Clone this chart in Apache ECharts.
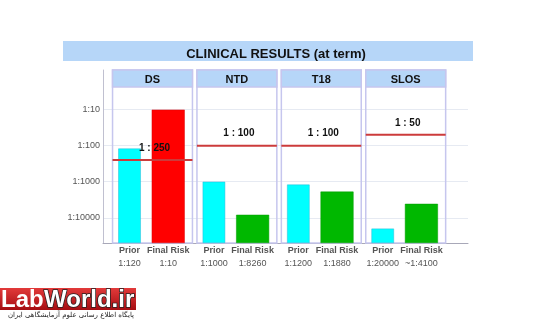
<!DOCTYPE html>
<html>
<head>
<meta charset="utf-8">
<script src="https://cdn.jsdelivr.net/npm/echarts@6/dist/echarts.min.js"></script>
<style>html,body{margin:0;padding:0;background:#fff}#c{width:550px;height:320px}</style>
</head>
<body>
<div id="c"></div>
<script>
// ---- data ----
const categories = ['DS', 'NTD', 'T18', 'SLOS'];
const priorDenoms = [120, 1000, 1200, 20000];
const finalDenoms = [10, 8260, 1880, 4100];
const priorLabels = ['1:120', '1:1000', '1:1200', '1:20000'];
const finalLabels = ['1:10', '1:8260', '1:1880', '~1:4100'];
const cutoffDenoms = [250, 100, 100, 50];
const cutoffLabels = ['1 : 250', '1 : 100', '1 : 100', '1 : 50'];
const yTickDenoms = [10, 100, 1000, 10000];
const yTickLabels = ['1:10', '1:100', '1:1000', '1:10000'];
const titleText = 'CLINICAL RESULTS (at term)';

// log-risk transform: height above axis floor (floor = 10^-4.7)
const FLOOR = 4.7, TOPV = 4.8;
const h = d => FLOOR - Math.log10(d);
const tickVals = yTickDenoms.map(h);

const FONT = '"Liberation Sans", Arial, sans-serif';
const chart = echarts.init(document.getElementById('c'), null, {renderer: 'canvas'});

const panelSeries = {
  type: 'custom', xAxisIndex: 1, yAxisIndex: 1, z: 1, silent: true,
  data: categories.map((c, i) => [i]),
  renderItem: function (params, api) {
    const i = api.value(0);
    const bot = api.coord([i, 0]);
    const top = api.coord([i, TOPV]);
    const bw = api.size([1, 0])[0];
    const w = bw - 4.5;
    const x0 = bot[0] - w / 2 + 1;
    const hh = 17;
    return {
      type: 'group',
      children: [
        {type: 'rect', shape: {x: x0, y: top[1], width: w, height: bot[1] - top[1]},
         style: {fill: 'none', stroke: '#c6c6ee', lineWidth: 1.5}},
        {type: 'rect', shape: {x: x0, y: top[1], width: w, height: hh},
         style: {fill: '#b6d6f8', stroke: '#c6c6ee', lineWidth: 1.5}},
        {type: 'text', style: {x: x0 + w / 2, y: top[1] + hh / 2 + 1, text: categories[i],
          align: 'center', verticalAlign: 'middle', font: 'bold 11px ' + FONT, fill: '#111'}}
      ]
    };
  }
};

const cutoffSeries = {
  type: 'custom', xAxisIndex: 1, yAxisIndex: 1, z: 10, silent: true,
  data: cutoffDenoms.map((d, i) => [i, h(d)]),
  renderItem: function (params, api) {
    const i = api.value(0);
    const p = api.coord([i, api.value(1)]);
    const bw = api.size([1, 0])[0];
    const w = bw - 4.5;
    const x0 = p[0] - w / 2 + 1;
    return {
      type: 'group',
      children: [
        {type: 'line', shape: {x1: x0, y1: p[1], x2: x0 + w, y2: p[1]},
         style: {stroke: '#cc3b3b', lineWidth: 2}},
        {type: 'text', style: {x: x0 + w / 2 + 2, y: p[1] - 12, text: cutoffLabels[i],
          align: 'center', verticalAlign: 'middle', font: 'bold 10px ' + FONT, fill: '#111'}}
      ]
    };
  }
};

const barLabel = (labels) => ({
  show: true, position: 'bottom', distance: 1,
  formatter: p => '{a|' + p.seriesName + '}\n{b|' + labels[p.dataIndex] + '}',
  rich: {
    a: {fontFamily: FONT, fontSize: 9, fontWeight: 'bold', color: '#555', lineHeight: 13},
    b: {fontFamily: FONT, fontSize: 9, color: '#555', lineHeight: 13}
  }
});

const option = {
  animation: false,
  backgroundColor: '#ffffff',
  title: {
    text: titleText, left: 271, top: 43, textAlign: 'center',
    textStyle: {fontFamily: FONT, fontSize: 13, fontWeight: 'bold', color: '#111'}
  },
  graphic: [
    {type: 'rect', z: -10, shape: {x: 63, y: 41, width: 410, height: 20}, style: {fill: '#b6d6f8'}},
    {type: 'group', x: 0, y: 288, children: [
      {type: 'rect', shape: {x: 0, y: 0, width: 136, height: 22},
       style: {fill: new echarts.graphic.LinearGradient(0, 0, 0, 1, [{offset: 0, color: '#e23a3a'}, {offset: 1, color: '#a50d12'}])}},
      {type: 'text', style: {x: 1, y: 12, text: 'Lab', verticalAlign: 'middle',
        font: 'bold 24px ' + FONT, fill: '#ffffff'}},
      {type: 'text', style: {x: 44, y: 12, text: 'World.ir', verticalAlign: 'middle',
        font: 'bold 24px ' + FONT, fill: '#ffffff', stroke: '#222', lineWidth: 1.5}},
      {type: 'text', style: {x: 134, y: 27, text: 'پایگاه اطلاع رسانی علوم آزمایشگاهی ایران', align: 'right', verticalAlign: 'middle',
        font: '7px "DejaVu Sans", sans-serif', fill: '#222'}}
    ]}
  ],
  grid: [
    {left: 103, top: 70, width: 365, height: 173},
    {left: 109.3, top: 70, width: 337.6, height: 173}
  ],
  xAxis: [
    {gridIndex: 0, type: 'value', min: 0, max: 1, axisLine: {show: true, lineStyle: {color: '#a8a8b8', width: 1}},
     axisTick: {show: false}, axisLabel: {show: false}, splitLine: {show: false}},
    {gridIndex: 1, type: 'category', data: categories, show: false}
  ],
  yAxis: [
    {gridIndex: 0, type: 'value', min: 0, max: TOPV,
     axisLine: {show: true, lineStyle: {color: '#c0c0d0', width: 1}},
     axisTick: {show: false, customValues: tickVals},
     axisLabel: {customValues: tickVals, margin: 3, fontFamily: FONT, fontSize: 9, color: '#555',
       formatter: v => { let k = 0, best = 1e9; tickVals.forEach((t, j) => { if (Math.abs(t - v) < best) { best = Math.abs(t - v); k = j; } }); return yTickLabels[k]; }},
     splitLine: {show: true, lineStyle: {color: '#e6eaf2', width: 1}}},
    {gridIndex: 1, type: 'value', min: 0, max: TOPV, show: false, splitLine: {show: false}}
  ],
  series: [
    panelSeries,
    {name: 'Prior', type: 'bar', xAxisIndex: 1, yAxisIndex: 1, z: 3,
     barWidth: 22.5, barGap: '48.7%',
     data: priorDenoms.map(h),
     itemStyle: {color: '#00ffff', borderColor: '#2ab8d8', borderWidth: 0.5},
     label: barLabel(priorLabels)},
    {name: 'Final Risk', type: 'bar', xAxisIndex: 1, yAxisIndex: 1, z: 3,
     barWidth: 33, barGap: '48.7%',
     data: finalDenoms.map((d, i) => ({value: h(d), itemStyle: {color: i === 0 ? '#ff0000' : '#00b800', borderColor: i === 0 ? '#d00' : '#009a00', borderWidth: 0.5}})),
     label: barLabel(finalLabels)},
    cutoffSeries
  ]
};
chart.setOption(option);
</script>
</body>
</html>
